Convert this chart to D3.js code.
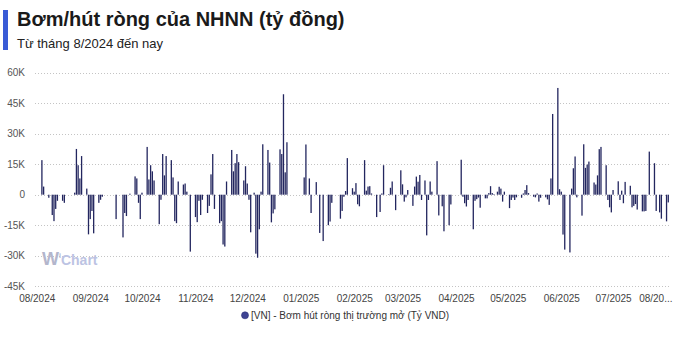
<!DOCTYPE html>
<html><head><meta charset="utf-8">
<script src="https://cdn.jsdelivr.net/npm/d3@7"></script>
<style>
body{margin:0;background:#fff;}
svg text{font-family:"Liberation Sans",Arial,sans-serif;}
</style></head><body>
<svg id="c" width="700" height="339"></svg>
<script>
const title = "Bơm/hút ròng của NHNN (tỷ đồng)";
const subtitle = "Từ tháng 8/2024 đến nay";
const seriesName = "[VN] - Bơm hút ròng thị trường mở (Tỷ VND)";
const yTicks = [-45000, -30000, -15000, 0, 15000, 30000, 45000, 60000];
const xDomain = ["2024-07-31", "2025-08-03"];

const dates = [
"2024-08-04","2024-08-05","2024-08-08","2024-08-10","2024-08-11","2024-08-12","2024-08-13","2024-08-16","2024-08-17",
"2024-08-23","2024-08-24","2024-08-25","2024-08-26","2024-08-27","2024-08-30","2024-08-31","2024-09-01","2024-09-02","2024-09-03",
"2024-09-06","2024-09-07","2024-09-08","2024-09-16","2024-09-20","2024-09-21","2024-09-22","2024-09-24","2024-09-27","2024-09-28",
"2024-09-29","2024-09-30","2024-10-01","2024-10-04","2024-10-05","2024-10-06","2024-10-07","2024-10-08","2024-10-11","2024-10-12",
"2024-10-13","2024-10-14","2024-10-15","2024-10-18","2024-10-19","2024-10-20","2024-10-21","2024-10-22","2024-10-25","2024-10-26",
"2024-10-27","2024-10-29","2024-11-01","2024-11-02","2024-11-03","2024-11-04","2024-11-05","2024-11-08","2024-11-09","2024-11-10",
"2024-11-11","2024-11-12","2024-11-15","2024-11-16","2024-11-17","2024-11-18","2024-11-19","2024-11-22","2024-11-23","2024-11-24",
"2024-11-25","2024-11-26","2024-11-29","2024-11-30","2024-12-01","2024-12-02","2024-12-03","2024-12-05","2024-12-06","2024-12-07",
"2024-12-08","2024-12-09","2024-12-10","2024-12-13","2024-12-14","2024-12-15","2024-12-16","2024-12-17","2024-12-20","2024-12-21",
"2024-12-22","2024-12-23","2024-12-24","2025-01-03","2025-01-04","2025-01-06","2025-01-07","2025-01-10","2025-01-12","2025-01-14",
"2025-01-17","2025-01-18","2025-01-19","2025-01-24","2025-01-25","2025-01-26","2025-01-27","2025-01-28","2025-01-31","2025-02-01",
"2025-02-02","2025-02-03","2025-02-04","2025-02-07","2025-02-08","2025-02-09","2025-02-10","2025-02-11","2025-02-14","2025-02-16",
"2025-02-17","2025-02-18","2025-02-21","2025-02-22","2025-02-23","2025-02-25","2025-02-28","2025-03-01","2025-03-02","2025-03-03",
"2025-03-04","2025-03-07","2025-03-08","2025-03-09","2025-03-10","2025-03-11","2025-03-12","2025-03-14","2025-03-15","2025-03-16",
"2025-03-17","2025-03-18","2025-03-21","2025-03-22","2025-03-24","2025-03-25","2025-03-28","2025-03-29","2025-04-04","2025-04-05",
"2025-04-06","2025-04-07","2025-04-08","2025-04-11","2025-04-12","2025-04-13","2025-04-14","2025-04-15","2025-04-18","2025-04-19",
"2025-04-20","2025-04-21","2025-04-22","2025-04-23","2025-04-25","2025-04-26","2025-04-27","2025-04-28","2025-04-29","2025-05-02",
"2025-05-03","2025-05-04","2025-05-05","2025-05-06","2025-05-09","2025-05-10","2025-05-11","2025-05-12","2025-05-13","2025-05-16",
"2025-05-17","2025-05-18","2025-05-19","2025-05-20","2025-05-23","2025-05-24","2025-05-25","2025-05-26","2025-05-27","2025-05-30",
"2025-05-31","2025-06-01","2025-06-02","2025-06-03","2025-06-06","2025-06-07","2025-06-08","2025-06-09","2025-06-10","2025-06-13",
"2025-06-14","2025-06-15","2025-06-16","2025-06-17","2025-06-20","2025-06-21","2025-06-22","2025-06-23","2025-06-24","2025-06-27",
"2025-06-28","2025-06-29","2025-06-30","2025-07-01","2025-07-04","2025-07-05","2025-07-06","2025-07-07","2025-07-08","2025-07-11",
"2025-07-12","2025-07-13","2025-07-14","2025-07-15","2025-07-18","2025-07-19","2025-07-20","2025-07-22","2025-07-25","2025-07-26",
"2025-07-28","2025-07-29","2025-08-01","2025-08-02"
];

const values = [
17000,4000,-1500,-10000,-13000,-7000,-3000,-3000,-4000,
1000,22500,14500,8000,19000,3000,-19500,-12000,-8000,-19000,
-4000,-2500,-1000,-12000,-21000,-9000,-10500,500,9000,8000,
-4000,-12000,1000,23500,7500,14500,11500,7000,-14500,-2500,
20000,9500,19000,17000,8500,-13000,-14000,6500,5000,5500,
1500,-28000,-11000,-13500,-3000,-10000,-2500,-9000,-5500,10000,
20000,-7000,-14000,-13000,-24500,-25500,6500,22000,11500,15500,
20000,16000,7000,14000,5500,-2500,-18500,1000,-29000,-31000,
-17000,1500,24800,22000,15800,-13600,-9200,-7200,22300,20000,
49400,11000,25800,8500,24700,8000,-9000,6200,-18800,-22800,
-15000,-13200,-4000,-11800,-8000,-1000,1800,18000,3200,1500,
5700,-4700,-5700,17000,2000,4000,4200,600,-11000,-8500,
600,14500,300,3400,6500,-7600,12000,5100,-3400,-1300,
2300,-5500,4000,8900,6400,9700,-2600,7000,-20000,-2600,
6500,1500,16500,-10200,-5700,-18000,-15000,-4800,17200,-1000,
-4200,-5800,-2600,-17000,-3000,-2200,-1400,-6400,-1800,-1800,
800,4200,800,300,1500,3900,3000,-3400,1500,-6600,
-2600,-1400,-2600,-1300,-1500,600,2300,4700,800,-1000,
-1300,600,-3400,-1500,-1300,-2300,-5000,8000,39700,52500,
2700,1500,-19600,-27000,-28400,3000,13000,18800,-1300,-10300,
24800,13200,14800,16300,6000,5000,9500,22400,23500,14500,
-2600,-6200,-8700,2300,6600,-2600,2000,-4200,6300,4400,
-6200,-5500,-4600,-7300,-8200,-8200,-8000,21200,15500,-8000,
-8700,-11800,-13100,-3800
];

const parse = d3.utcParse("%Y-%m-%d");
const data = dates.map((d, i) => ({date: parse(d), value: values[i]}));

const svg = d3.select("#c");
const plot = {left: 35, right: 670, top: 72.7, bottom: 286.2};

const x = d3.scaleUtc().domain(xDomain.map(parse)).range([plot.left, plot.right]);
const y = d3.scaleLinear().domain([-45000, 60000]).range([plot.bottom, plot.top]);

// header
svg.append("rect").attr("x", 3).attr("y", 10).attr("width", 5).attr("height", 40).attr("fill", "#3a5bd6");
svg.append("text").attr("x", 17).attr("y", 26).attr("font-size", 20).attr("font-weight", "bold")
  .attr("fill", "#1a1a1a").text(title);
svg.append("text").attr("x", 17).attr("y", 47.5).attr("font-size", 13).attr("fill", "#222").text(subtitle);

// grid
const grid = svg.append("g");
grid.selectAll("line").data(yTicks).join("line")
  .attr("x1", plot.left).attr("x2", plot.right)
  .attr("y1", d => Math.round(y(d)) + 0.5).attr("y2", d => Math.round(y(d)) + 0.5)
  .attr("stroke", "#c4c4c4").attr("stroke-width", 1).attr("stroke-dasharray", "1,2");

// watermark
const wm = svg.append("text").attr("x", 42).attr("y", 265).attr("font-weight", "bold");
wm.append("tspan").attr("font-size", 18).attr("fill", "#b3b6cc").text("W");
wm.append("tspan").attr("font-size", 7).attr("dy", -7).attr("fill", "#b3b6cc").text("i");
wm.append("tspan").attr("font-size", 14).attr("dy", 7).attr("fill", "#bcc3e3").text("Chart");

// y axis
const yAxis = svg.append("g").attr("transform", `translate(${plot.left},0)`)
  .call(d3.axisLeft(y).tickValues(yTicks).tickSize(0).tickPadding(10)
    .tickFormat(d => d === 0 ? "0" : (d / 1000) + "K"));
yAxis.select(".domain").remove();
yAxis.selectAll("text").attr("font-size", 10).attr("fill", "#555").attr("font-family", null);

// x axis
const monthTicks = d3.utcMonth.range(parse("2024-08-01"), parse("2025-08-02"));
const xAxis = svg.append("g").attr("transform", `translate(0,${plot.bottom})`)
  .call(d3.axisBottom(x).tickValues(monthTicks).tickSize(0).tickPadding(9)
    .tickFormat(d3.utcFormat("%m/%Y")));
xAxis.select(".domain").remove();
xAxis.selectAll("text").attr("font-size", 10).attr("fill", "#444").attr("font-family", null);
// truncate a label overflowing the right edge
xAxis.selectAll(".tick").each(function(d) {
  const t = d3.select(this).select("text");
  const w = t.node().getComputedTextLength();
  const px = x(d);
  if (px + w / 2 > plot.right + 2) {
    let s = t.text();
    while (s.length > 2) {
      s = s.slice(0, -1);
      t.text(s + "...");
      if (t.node().getComputedTextLength() <= w - 2) break;
    }
    t.attr("text-anchor", "end").attr("x", plot.right + 2 - px);
  }
});

// bars
const bw = 1.3;
svg.append("g").selectAll("rect").data(data).join("rect")
  .attr("x", d => x(d.date) - bw / 2)
  .attr("width", bw)
  .attr("y", d => Math.min(y(d.value), y(0)))
  .attr("height", d => Math.abs(y(d.value) - y(0)))
  .attr("fill", "#23265f");

// legend
const lg = svg.append("g");
lg.append("circle").attr("cx", 245).attr("cy", 315.3).attr("r", 3.5)
  .attr("fill", "#3e4393").attr("stroke", "#2c3078").attr("stroke-width", 0.6);
lg.append("text").attr("x", 251).attr("y", 319).attr("font-size", 10).attr("fill", "#333").text(seriesName);
</script>
</body></html>
